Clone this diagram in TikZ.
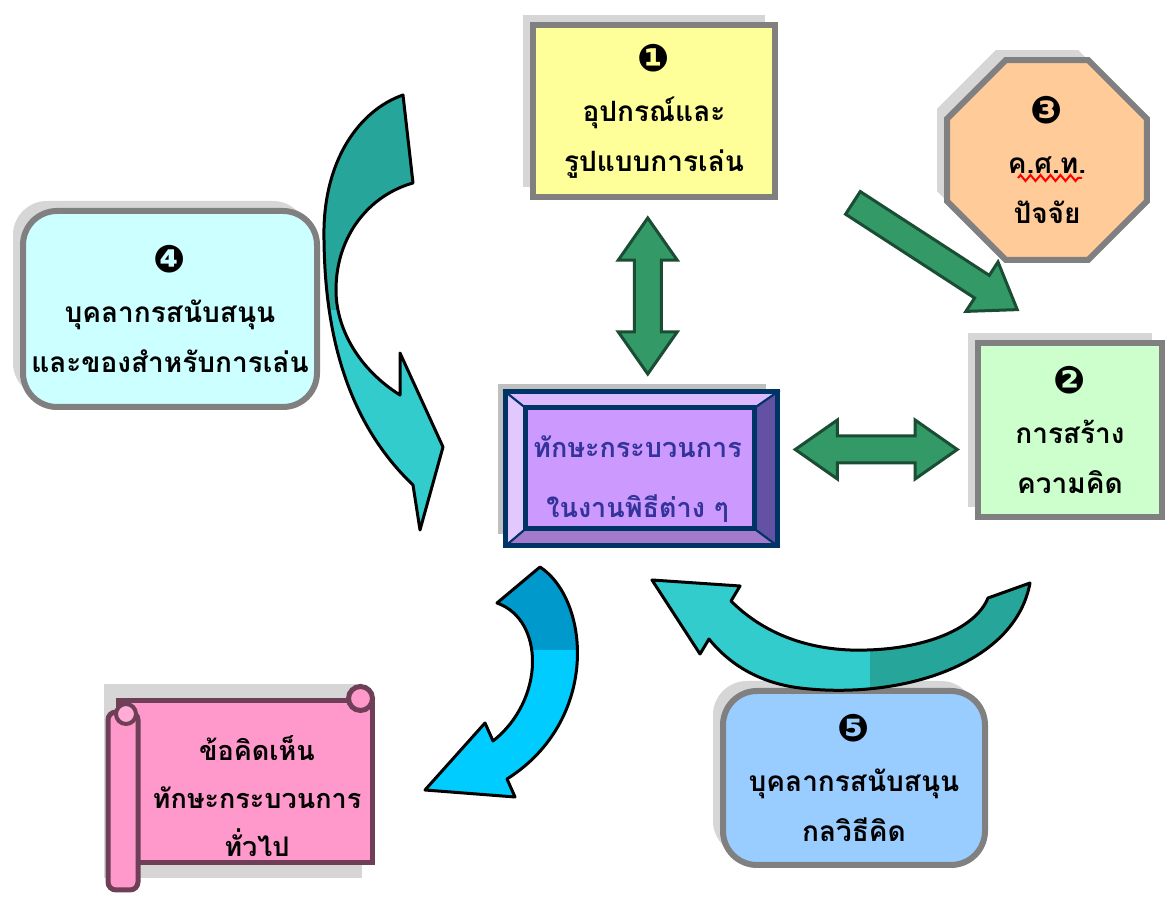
\documentclass[tikz,border=0pt]{standalone}
\usepackage{fontspec}
\newfontfamily\thaifont[Script=Thai]{Loma}
\newfontfamily\symfont{DejaVu Sans}
\usetikzlibrary{positioning,calc,shapes.geometric,shapes.arrows,shadows,decorations.pathmorphing}

\definecolor{boxgray}{HTML}{808080}
\definecolor{shadowgray}{HTML}{D6D6D6}
\definecolor{yellowbox}{HTML}{FFFF99}
\definecolor{orangebox}{HTML}{FFCC99}
\definecolor{cyanbox}{HTML}{CCFFFF}
\definecolor{greenbox}{HTML}{CCFFCC}
\definecolor{bluebox}{HTML}{99CCFF}
\definecolor{pinkbox}{HTML}{FF99CC}
\definecolor{pinkedge}{HTML}{6E3F57}
\definecolor{corefill}{HTML}{CC99FF}
\definecolor{coreline}{HTML}{003366}
\definecolor{coretext}{HTML}{333399}
\definecolor{arrowgreen}{HTML}{339966}
\definecolor{arrowedge}{HTML}{1A4D33}
\definecolor{tealdark}{HTML}{26A69A}
\definecolor{teallight}{HTML}{33CCCC}
\definecolor{bluedark}{HTML}{0099CC}
\definecolor{bluelight}{HTML}{00CCFF}

\newcommand{\numb}[1]{{\symfont\fontsize{19}{19}\selectfont #1}}

\begin{document}
\begin{tikzpicture}[x=0.5pt,y=-0.5pt]
  \tikzset{
    infobox/.style={draw=boxgray, line width=3pt, align=center, inner sep=0pt,
      font=\thaifont\bfseries\fontsize{14}{25}\selectfont,
      drop shadow={shadow xshift=-5pt, shadow yshift=5pt, fill=shadowgray, opacity=1}},
    roundbox/.style={infobox, rounded corners=17pt},
    blockarrow/.style={fill=arrowgreen, draw=arrowedge, line width=1.5pt, inner xsep=0pt, inner ysep=6pt},
    bendarrow/.style={draw=black, line width=1.5pt, line join=round},
  }
  \useasboundingbox (0,0) rectangle (1169,897);

  % boxes
  \node[infobox, fill=yellowbox, minimum width=121pt, minimum height=86pt] (box1) at (654,111)
    {\numb{❶}\\ อุปกรณ์และ\\ รูปแบบการเล่น};
  \node[infobox, fill=orangebox, regular polygon, regular polygon sides=8, minimum size=108pt] (box3) at (1047,160)
    {\numb{❸}\\ ค.ศ.ท.\\ ปัจจัย};
  \node[roundbox, fill=cyanbox, minimum width=147pt, minimum height=98pt] (box4) at (170,309)
    {\numb{❹}\\ บุคลากรสนับสนุน\\ และของสำหรับการเล่น};
  \node[infobox, fill=greenbox, minimum width=92pt, minimum height=87pt] (box2) at (1070,430)
    {\numb{❷}\\ การสร้าง\\ ความคิด};
  \node[roundbox, fill=bluebox, minimum width=131pt, minimum height=87pt] (box5) at (854,778)
    {\numb{❺}\\ บุคลากรสนับสนุน\\ กลวิธีคิด};

  % spelling mark
  \coordinate (sq1) at (1018,178);
  \coordinate (sq2) at (1082,178);
  \draw[red, line width=1pt, decorate, decoration={zigzag, amplitude=1.5pt, segment length=5pt}] (sq1) -- (sq2);

  % centre box
  \node[draw=coreline, line width=2pt, fill=corefill, minimum width=134pt, minimum height=75pt, inner sep=0pt,
    drop shadow={shadow xshift=-5pt, shadow yshift=5pt, fill=black!25, opacity=1}] (core) at (641.5,469) {};
  \coordinate (cnw) at ($(core.north west)+(20,16)$);
  \coordinate (cne) at ($(core.north east)+(-23,16)$);
  \coordinate (cse) at ($(core.south east)+(-23,-17)$);
  \coordinate (csw) at ($(core.south west)+(20,-17)$);
  \fill[draw=coreline, line width=1pt, fill=corefill!70!white] (core.north west) -- (core.north east) -- (cne) -- (cnw) -- cycle;
  \fill[draw=coreline, line width=1pt, fill=corefill!55!white] (core.north west) -- (cnw) -- (csw) -- (core.south west) -- cycle;
  \fill[draw=coreline, line width=1pt, fill=corefill!50!black!80!blue!90] (core.north east) -- (core.south east) -- (cse) -- (cne) -- cycle;
  \fill[draw=coreline, line width=1pt, fill=corefill!80!black] (core.south west) -- (csw) -- (cse) -- (core.south east) -- cycle;
  \draw[coreline, line width=2.5pt] (cnw) rectangle (cse);
  \draw[coreline, line width=2.5pt] (core.north west) rectangle (core.south east);
  \node[text=coretext, align=center, font=\thaifont\bfseries\fontsize{13.5}{30}\selectfont] (coretxt) at ($(core.center)+(-4,10)$)
    {ทักษะกระบวนการ\\ ในงานพิธีต่าง ๆ};

  % scroll
  \fill[shadowgray] (104,684) rectangle (362,878);
  \node[draw=pinkedge, line width=2.5pt, fill=pinkbox, minimum width=127pt, minimum height=81pt, inner sep=0pt] (scroll) at (245,782) {};
  \draw[pinkedge, line width=2.5pt, fill=pinkbox] (scroll.north east) ++(-14,0) circle (12);
  \draw[pinkedge, line width=2.5pt, fill=pinkbox, rounded corners=4pt] (108,712) rectangle (138,890);
  \draw[pinkedge, line width=2pt, fill=pinkbox!80!white] (126,714) circle (10);
  \node[align=center, font=\thaifont\bfseries\fontsize{13.5}{24}\selectfont] (scrolltxt) at ($(scroll.center)+(12,14)$)
    {ข้อคิดเห็น\\ ทักษะกระบวนการ\\ ทั่วไป};

  % straight arrows
  \node[blockarrow, double arrow, rotate=90, minimum height=78pt, double arrow head extend=8pt, double arrow tip angle=70]
    (a14) at ($(box1.south)!0.5!(core.north)$) {};
  \node[blockarrow, double arrow, minimum height=81pt, double arrow head extend=8pt, double arrow tip angle=70]
    (a12) at ($(core.east)!0.5!(box2.west)$) {};
  \node[blockarrow, single arrow, rotate=-33, minimum height=98pt, single arrow head extend=8pt, single arrow tip angle=70]
    (a32) at (927,251) {};

  % bent arrows
  \path[save path=\bendA] (403,95) .. controls (360,110) and (322,160) .. (324,240)
    .. controls (325,330) and (345,420) .. (413,485) -- (420,530) -- (443,447) -- (400,353) -- (400,395)
    .. controls (360,370) and (336,330) .. (336,290) .. controls (336,235) and (370,195) .. (413,183) -- cycle;
  \path[save path=\bendB] (540,567) .. controls (590,600) and (600,720) .. (507,779) -- (515,797) -- (425,790)
    -- (485,723) -- (493,741) .. controls (545,700) and (545,620) .. (497,603) -- cycle;
  \path[save path=\bendC] (1030,583) .. controls (1015,665) and (900,700) .. (800,688)
    .. controls (760,683) and (730,665) .. (709,639) -- (700,654) -- (652,580) -- (740,586) -- (731,601)
    .. controls (760,630) and (800,648) .. (850,650) .. controls (920,652) and (975,630) .. (988,598) -- cycle;

  \fill[teallight, use path=\bendA];
  \begin{scope}
    \clip (0,0) rectangle (1169,310);
    \fill[tealdark, use path=\bendA];
  \end{scope}
  \draw[bendarrow, use path=\bendA];

  \fill[bluelight, use path=\bendB];
  \begin{scope}
    \clip (0,0) rectangle (1169,650);
    \fill[bluedark, use path=\bendB];
  \end{scope}
  \draw[bendarrow, use path=\bendB];

  \fill[teallight, use path=\bendC];
  \begin{scope}
    \clip (870,0) rectangle (1169,897);
    \fill[tealdark, use path=\bendC];
  \end{scope}
  \draw[bendarrow, use path=\bendC];
\end{tikzpicture}
\end{document}
